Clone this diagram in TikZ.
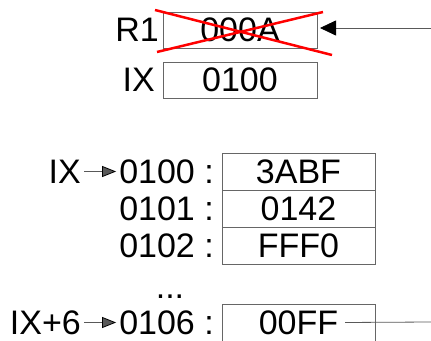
\documentclass[tikz,border=0pt]{standalone}
\usepackage{fontspec}
\setmainfont{Liberation Sans}
\usetikzlibrary{positioning,arrows.meta}

\begin{document}
\begin{tikzpicture}[
		x=1pt,y=1pt,
		node distance=0pt,
		big/.style={font=\fontsize{34}{38}\selectfont},
		cell/.style={big,draw=black!60,line width=0.8pt,outer sep=0pt,inner sep=0pt,minimum width=154pt,minimum height=36pt},
		memcell/.style={cell,minimum width=153pt,minimum height=37pt},
		lbl/.style={big,inner sep=0pt},
		wire/.style={black!65,line width=0.8pt}
		]
		\useasboundingbox (0,0) rectangle (431,340);
		% registers
		\node[cell] (r1) at (240,310) {000A};
		\node[cell,below=14pt of r1] (ix) {0100};
		\node[lbl,left=4pt of r1] (r1name) {R1};
		\node[lbl,left=8pt of ix] (ixname) {IX};
		\draw[red,line width=2.5pt] ([shift={(-85,20)}]r1.center) -- ([shift={(92,-25)}]r1.center);
		\draw[red,line width=2.5pt] ([shift={(-83,-22)}]r1.center) -- ([shift={(83,18)}]r1.center);
		\coordinate (r1tip) at ([shift={(3pt,2pt)}]r1.east);
		\coordinate (r1in) at (431,312);
		\draw[wire,-{Triangle[length=16pt,width=15pt,black]}] (r1in) -- (r1tip);
		% memory
		\node[memcell] (m0) at (298.5,168.5) {3ABF};
		\node[memcell,below=of m0] (m1) {0142};
		\node[memcell,below=of m1] (m2) {FFF0};
		\node[memcell] (m6) at (298.5,17.5) {00FF};
		\node[lbl,left=8pt of m0] (a0) {0100 :};
		\node[lbl,left=8pt of m1] (a1) {0101 :};
		\node[lbl,left=8pt of m2] (a2) {0102 :};
		\node[lbl,left=8pt of m6] (a6) {0106 :};
		\node[lbl,anchor=base] (dots) at (170,41) {...};
		\node[lbl,left=38pt of a0] (p0) {IX};
		\node[lbl,left=38pt of a6] (p6) {IX+6};
		\path [wire,-{Triangle[length=14pt,width=11pt,black]}]
		(p0) edge[shorten <=3pt,shorten >=3pt] (a0)
		(p6) edge[shorten <=3pt,shorten >=3pt] (a6);
		\coordinate (m6out) at (431,18);
		\draw[wire] ([xshift=-30pt]m6.east) -- (m6out);
	\end{tikzpicture}
\end{document}
